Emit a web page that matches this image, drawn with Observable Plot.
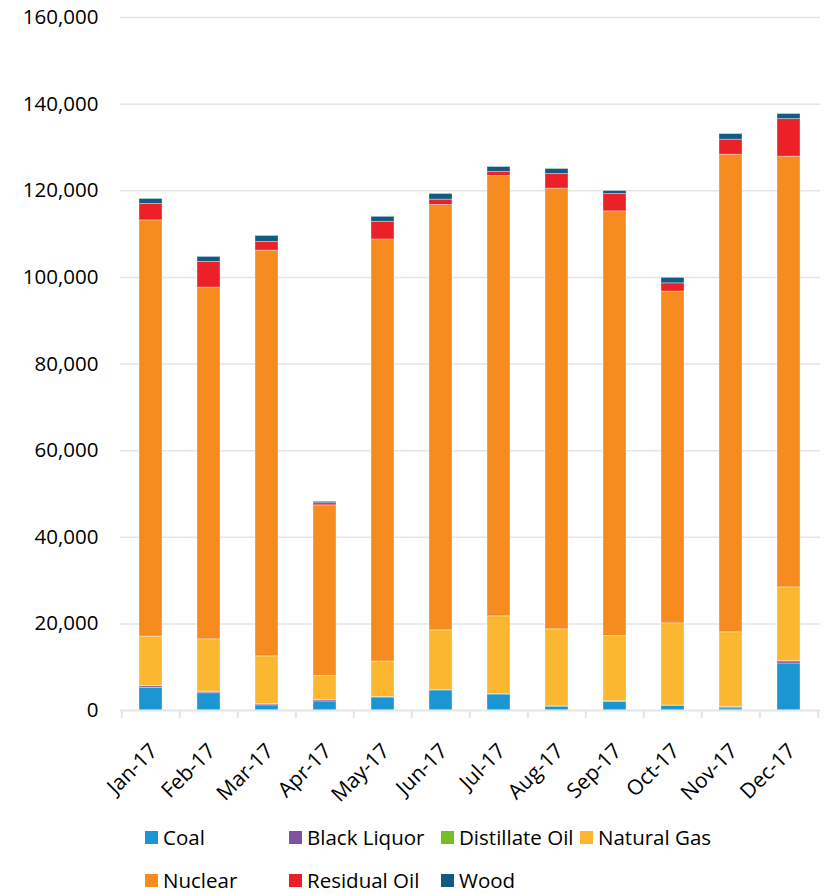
<!DOCTYPE html>
<html><head><meta charset="utf-8">
<script src="https://cdn.jsdelivr.net/npm/d3@7"></script>
<script src="https://cdn.jsdelivr.net/npm/@observablehq/plot@0.6"></script>
<style>
body{margin:0;background:#fff;font-family:"Open Sans",sans-serif;}
#chart{width:825px;height:894px;position:relative;overflow:hidden;}
#legend{position:absolute;top:826px;left:145px;display:grid;grid-template-columns:144px 152px 139px auto;row-gap:21px;font-size:20.5px;color:#000;}
#legend .item{display:flex;align-items:center;height:22px;line-height:22px;white-space:nowrap;}
#legend .sw{width:13px;height:13px;margin-right:5px;flex:none;}
</style></head><body>
<div id="chart"></div>
<script>
const months = ["Jan-17","Feb-17","Mar-17","Apr-17","May-17","Jun-17","Jul-17","Aug-17","Sep-17","Oct-17","Nov-17","Dec-17"];
const coal        = [5200, 4000, 1200, 2100, 3000, 4650, 3700, 900, 2000, 1100, 500, 10850];
const blackLiquor = [400, 300, 250, 300, 100, 0, 0, 0, 100, 0, 250, 500];
const distillate  = [50, 50, 50, 50, 50, 50, 50, 50, 50, 50, 50, 50];
const naturalGas  = [11400, 12080, 11010, 5520, 8160, 13810, 17990, 17790, 15040, 18970, 17250, 17030];
const nuclear     = [96110, 81210, 93660, 39400, 97430, 98200, 101660, 101740, 98050, 76590, 110270, 99430];
const residualOil = [3780, 5920, 2010, 500, 4080, 1230, 920, 3380, 4010, 1920, 3460, 8690];
const wood        = [1160, 1160, 1380, 300, 1150, 1310, 1160, 1160, 690, 1250, 1310, 1160];
const seriesNames = ["Coal","Black Liquor","Distillate Oil","Natural Gas","Nuclear","Residual Oil","Wood"];
const seriesColors = ["#1b96d3","#7f52a0","#76bd2a","#fbb72f","#f68b1f","#ec2027","#105b82"];
const yTicks = [0,20000,40000,60000,80000,100000,120000,140000,160000];

const seriesValues = [coal, blackLiquor, distillate, naturalGas, nuclear, residualOil, wood];
const table = [];
months.forEach((m, i) => {
  seriesNames.forEach((s, j) => table.push({month: m, series: s, value: seriesValues[j][i]}));
});

const W = 825, H = 815, ML = 120, MR = 5, MT = 17, MB = 105;
const step = (W - ML - MR) / months.length;
const gridColor = "#e3e6e6";

const chart = Plot.plot({
  width: W, height: H,
  marginTop: MT, marginBottom: MB, marginLeft: ML, marginRight: MR,
  style: {fontFamily: "'Open Sans', sans-serif", background: "#fff", overflow: "visible"},
  x: {type: "band", domain: months, paddingInner: 0.6, paddingOuter: 0.3, axis: null},
  y: {domain: [0, 160000], axis: null},
  color: {domain: seriesNames, range: seriesColors},
  marks: [
    Plot.ruleY(yTicks.slice(1), {stroke: gridColor, strokeWidth: 1.5}),
    Plot.barY(table, {x: "month", y: "value", fill: "series", order: seriesNames, stroke: "#ffffff", strokeOpacity: 0.35, strokeWidth: 1}),
    Plot.ruleY([0], {stroke: gridColor, strokeWidth: 2}),
    Plot.ruleX(months, {x: d => d, dx: -step / 2, y1: 0, y2: 0, insetBottom: -8, stroke: gridColor, strokeWidth: 2}),
    Plot.ruleX([months[months.length - 1]], {x: d => d, dx: step / 2, y1: 0, y2: 0, insetBottom: -8, stroke: gridColor, strokeWidth: 2}),
    Plot.text(yTicks, {y: d => d, text: d => d3.format(",")(d), frameAnchor: "left", textAnchor: "end", dx: -22, fontSize: 20.5, fill: "#000"}),
    Plot.text(months, {x: d => d, y: 0, text: d => d, rotate: -45, textAnchor: "end", dx: 3, dy: 37, fontSize: 21, fill: "#000"})
  ]
});
document.getElementById("chart").appendChild(chart);

const legend = document.createElement("div");
legend.id = "legend";
seriesNames.forEach((s, i) => {
  const item = document.createElement("div");
  item.className = "item";
  const sw = document.createElement("span");
  sw.className = "sw";
  sw.style.background = seriesColors[i];
  item.appendChild(sw);
  item.appendChild(document.createTextNode(s));
  legend.appendChild(item);
});
document.getElementById("chart").appendChild(legend);
</script>
</body></html>
